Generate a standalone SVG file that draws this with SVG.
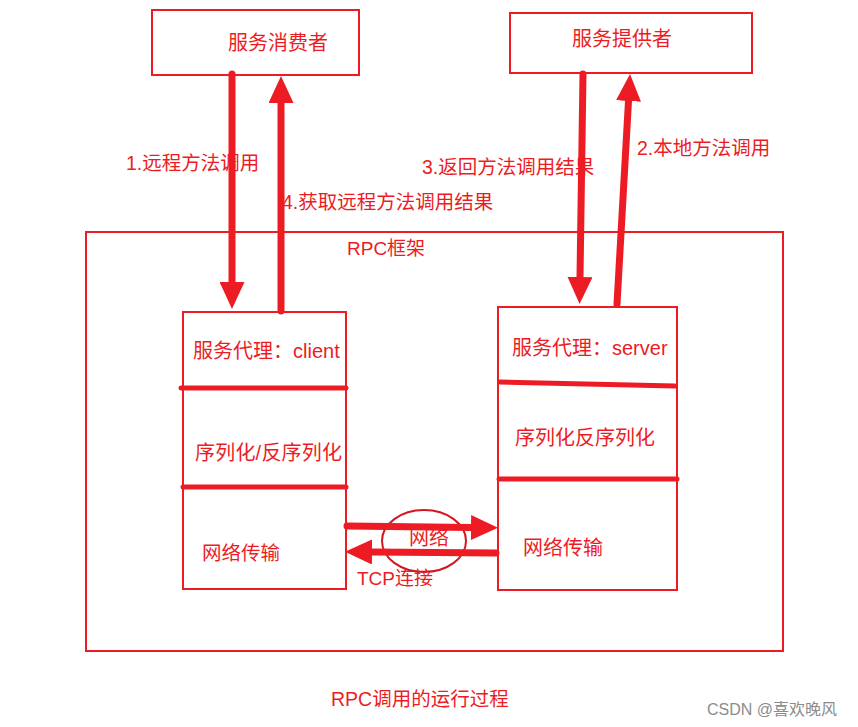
<svg xmlns="http://www.w3.org/2000/svg" width="858" height="727" viewBox="0 0 858 727">
<style>
.box{fill:none;stroke:#ed1c24;stroke-width:2}
.div{stroke:#ed1c24;stroke-width:5;stroke-linecap:round}
.arr{stroke:#ed1c24;stroke-width:7;stroke-linecap:round;fill:none;marker-end:url(#ah)}
.t{font-family:"Liberation Sans","Noto Sans CJK SC",sans-serif;fill:#ed1c24}
</style>
<defs>
<marker id="ah" markerUnits="userSpaceOnUse" markerWidth="27" markerHeight="25" refX="0" refY="12.5" orient="auto" viewBox="0 0 27 25">
<path d="M0,0 L27,12.5 L0,25 z" fill="#ed1c24"/>
</marker>
</defs>
<rect width="858" height="727" fill="#fff"/>
<g id="consumer">
<rect class="box" x="152" y="10" width="207" height="65"/>
<text class="t" x="228" y="50" font-size="20">服务消费者</text>
</g>
<g id="provider">
<rect class="box" x="510" y="13" width="242" height="60"/>
<text class="t" x="572" y="46" font-size="20">服务提供者</text>
</g>
<g id="rpc-framework">
<rect class="box" x="86" y="232" width="697" height="419"/>
<text class="t" x="347" y="255" font-size="19">RPC框架</text>
</g>
<g id="client">
<rect class="box" x="183" y="312" width="163" height="277"/>
<line class="div" x1="181" y1="388" x2="346" y2="388"/>
<line class="div" x1="183" y1="487" x2="346" y2="487"/>
<text class="t" x="193" y="358" font-size="20">服务代理：client</text>
<text class="t" x="195" y="460" font-size="20" textLength="147" lengthAdjust="spacing">序列化/反序列化</text>
<text class="t" x="202" y="560" font-size="19.5">网络传输</text>
</g>
<g id="server">
<rect class="box" x="498" y="307" width="179" height="283"/>
<line class="div" x1="500" y1="382" x2="675" y2="386"/>
<line class="div" x1="499" y1="479" x2="677" y2="479"/>
<text class="t" x="512" y="355" font-size="20">服务代理：server</text>
<text class="t" x="515" y="445" font-size="20">序列化反序列化</text>
<text class="t" x="523" y="555" font-size="20">网络传输</text>
</g>
<g id="labels">
<text class="t" x="126" y="170" font-size="19.5">1.远程方法调用</text>
<text class="t" x="282" y="209" font-size="19.5">4.获取远程方法调用结果</text>
<text class="t" x="422" y="174" font-size="19.5">3.返回方法调用结果</text>
<text class="t" x="637" y="155" font-size="19.5">2.本地方法调用</text>
<text class="t" x="409" y="545" font-size="20">网络</text>
<text class="t" x="357" y="585" font-size="19">TCP连接</text>
<text class="t" x="331" y="706" font-size="19.5">RPC调用的运行过程</text>
<text x="707" y="715" font-size="16" font-family="'Liberation Sans','Noto Sans CJK SC',sans-serif" fill="#8c8c8c">CSDN @喜欢晚风</text>
</g>
<g id="network">
<ellipse cx="424" cy="541" rx="42" ry="31" fill="none" stroke="#d4161e" stroke-width="2"/>
</g>
<g id="connectors">
<line class="arr" x1="232" y1="74" x2="232" y2="282"/>
<line class="arr" x1="281" y1="311" x2="281" y2="103"/>
<line class="arr" x1="583" y1="74" x2="580" y2="277"/>
<line class="arr" x1="617" y1="304" x2="628.5" y2="101"/>
<line class="arr" x1="347" y1="526" x2="471" y2="527.5"/>
<line class="arr" x1="496" y1="553" x2="372" y2="552"/>
</g>
</svg>
